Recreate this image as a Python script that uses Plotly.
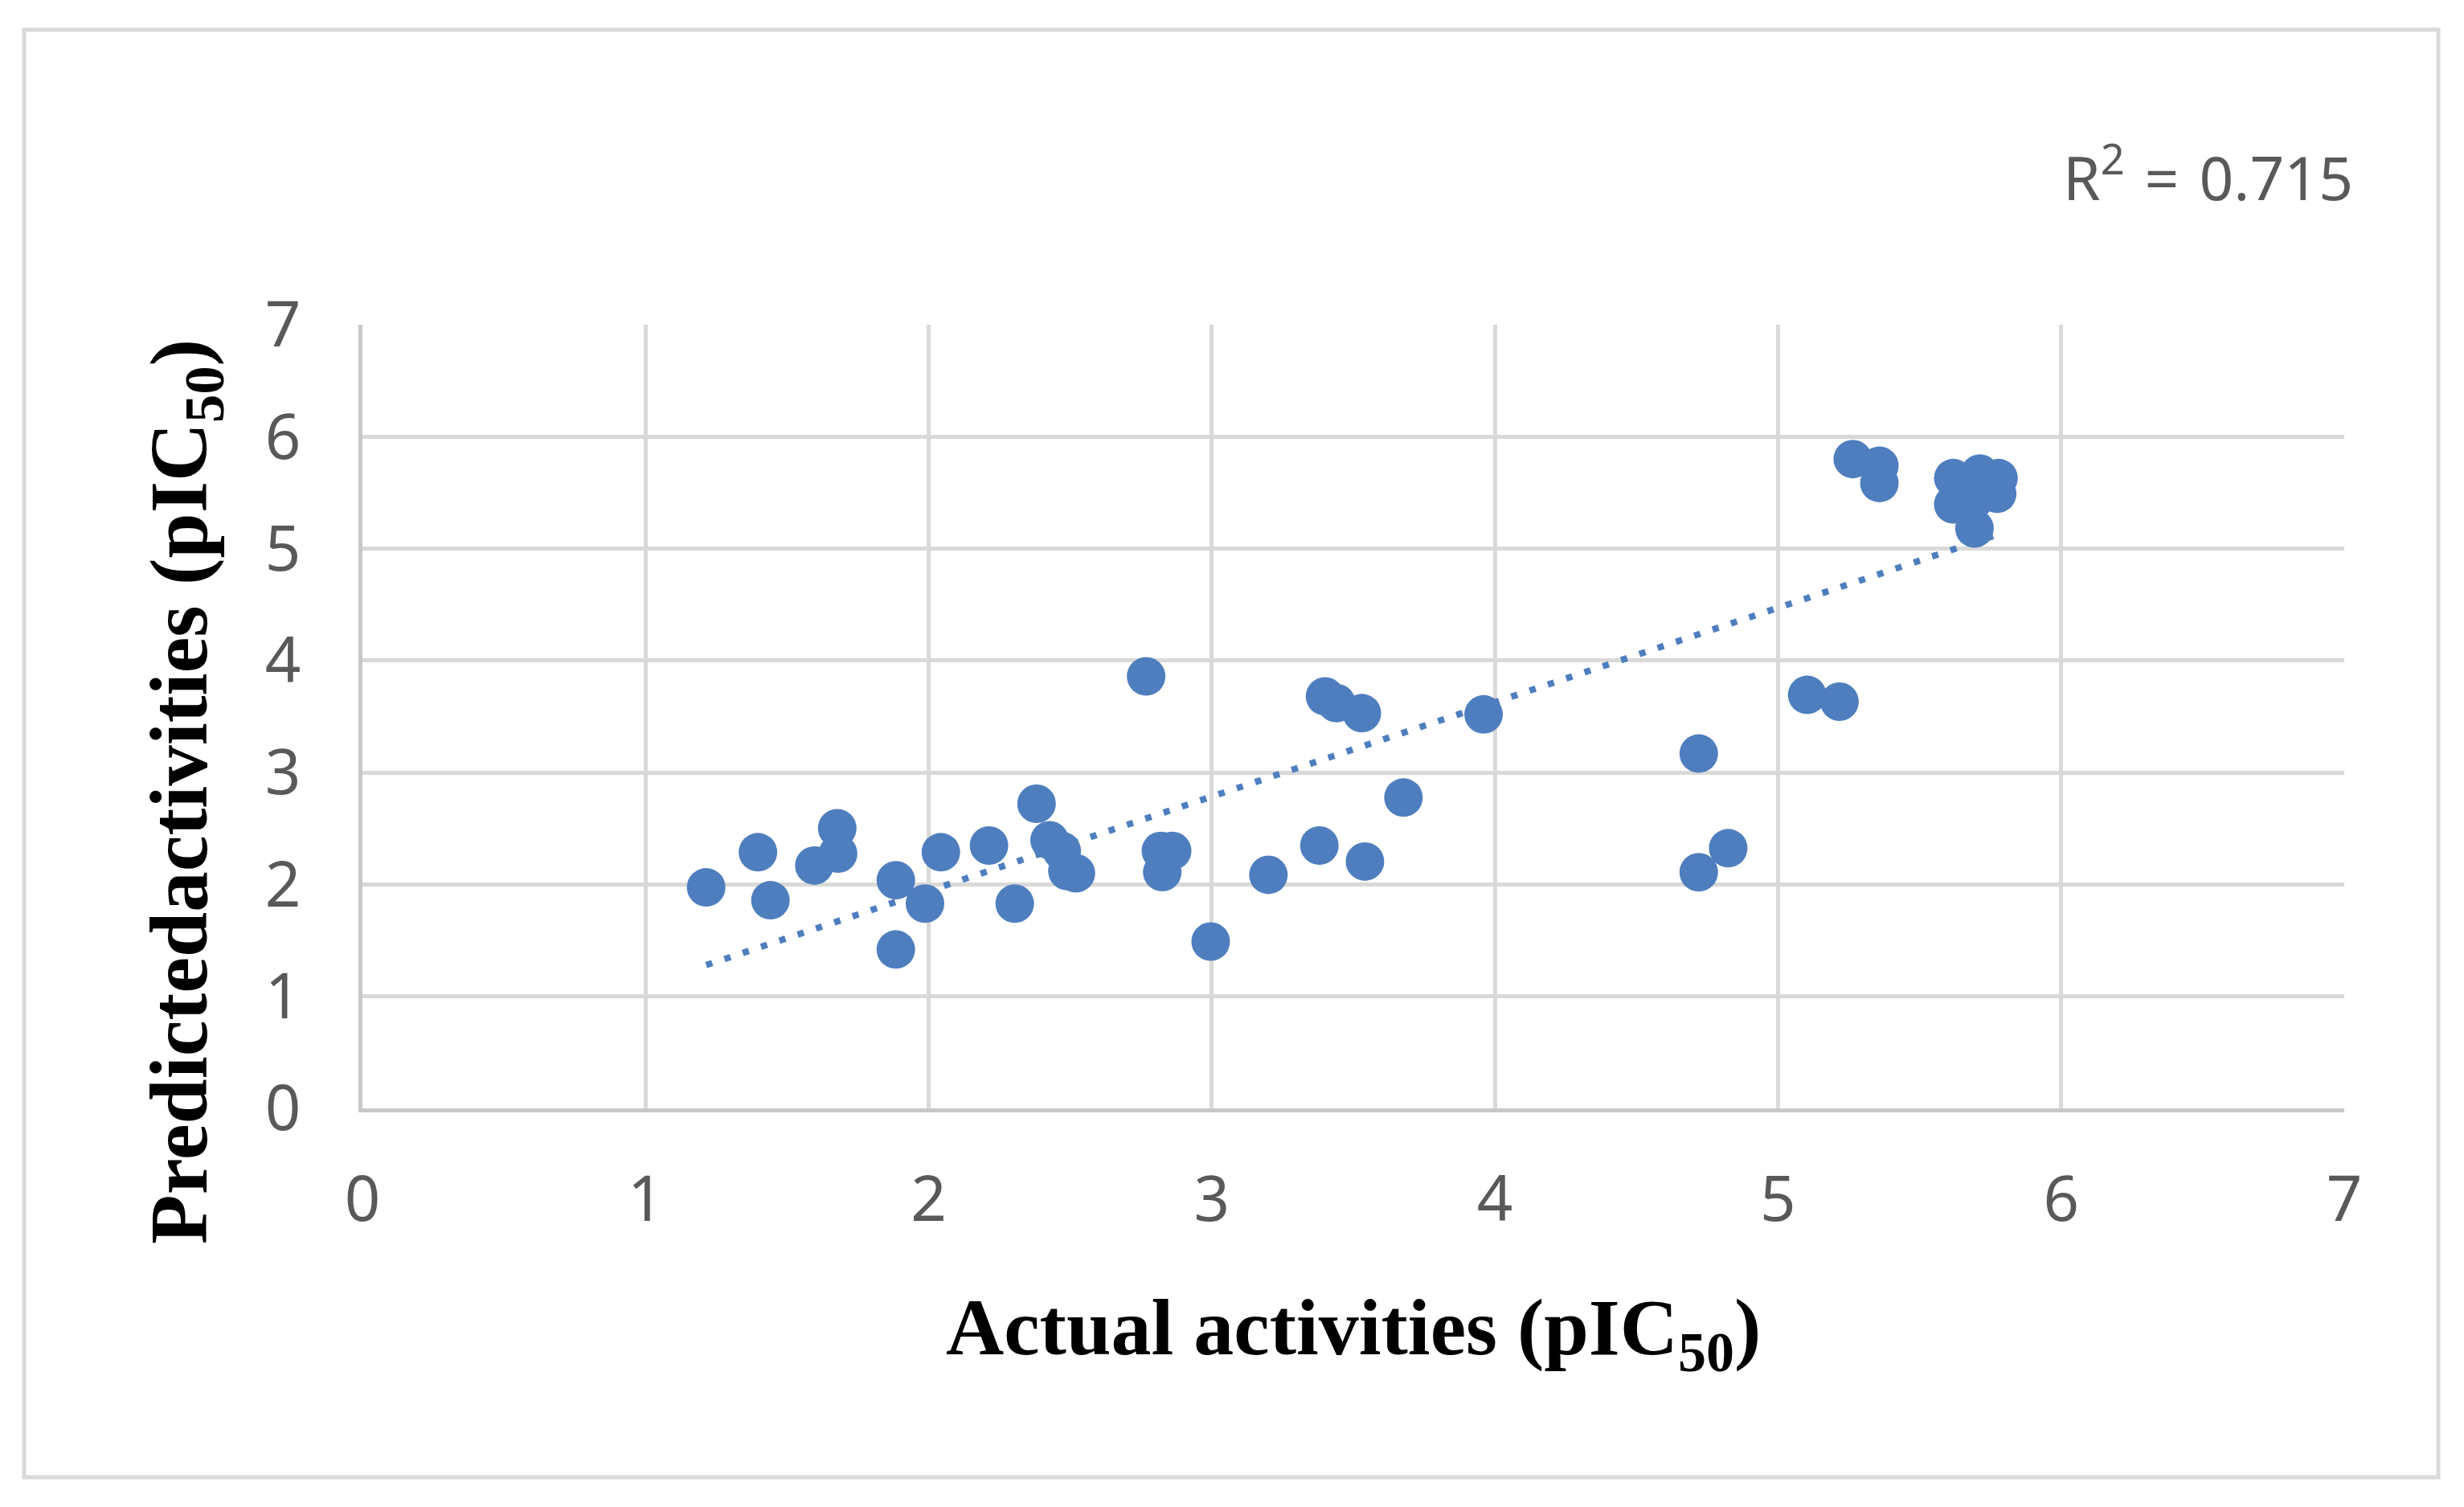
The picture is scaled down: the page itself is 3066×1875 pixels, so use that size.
import plotly.graph_objects as go

# ---- data ----
actual = [1.214, 1.397, 1.441, 1.596, 1.677, 1.680, 1.884, 1.884, 1.987, 2.043,
          2.213, 2.304, 2.381, 2.427, 2.470, 2.490, 2.520, 2.768, 2.820, 2.860,
          2.825, 2.996, 3.200, 3.380, 3.400, 3.440, 3.530, 3.541, 3.677, 3.960,
          4.720, 4.720, 4.824, 5.103, 5.217, 5.264, 5.358, 5.358, 5.619, 5.713,
          5.779, 5.774, 5.619, 5.694, 5.694]
predicted = [1.974, 2.288, 1.859, 2.169, 2.502, 2.276, 2.038, 1.419, 1.829, 2.288,
             2.348, 1.829, 2.721, 2.395, 2.300, 2.120, 2.100, 3.859, 2.300, 2.300,
             2.110, 1.490, 2.086, 2.348, 3.680, 3.620, 3.530, 2.205, 2.776, 3.519,
             3.169, 2.109, 2.324, 3.693, 3.633, 5.800, 5.740, 5.586, 5.630, 5.670,
             5.630, 5.490, 5.395, 5.440, 5.180]
x_ticks = [0, 1, 2, 3, 4, 5, 6, 7]
y_ticks = [0, 1, 2, 3, 4, 5, 6, 7]
trend_slope = 0.843      # linear trendline
trend_intercept = 0.256
r2_label = "R<sup>2</sup>\u2009\u2009=\u2009\u20090.715"
x_title = "Actual activities (pIC<sub>50</sub>)"
y_title = "Predictedactivities (pIC<sub>50</sub>)"

trend_x = [min(actual), max(actual)]
trend_y = [trend_slope * v + trend_intercept for v in trend_x]

W, H = 3066, 1875
L, R, T, B = 451, 2917, 404, 1379  # plot area in px

def px(xp):
    return (xp - L) / (R - L)

def py(yp):
    return (B - yp) / (B - T)

blue = "#4E7EBE"
grid = "#D9D9D9"
tickc = "#595959"

fig = go.Figure()
fig.add_trace(go.Scatter(x=trend_x, y=trend_y, mode="lines",
                         line=dict(color=blue, width=8, dash="8px,16px"),
                         hoverinfo="skip", showlegend=False))
fig.add_trace(go.Scatter(x=actual, y=predicted, mode="markers",
                         marker=dict(color=blue, size=48, line=dict(width=0)),
                         showlegend=False))

axis_common = dict(range=[0, 7], showgrid=True, gridcolor=grid, gridwidth=5,
                   zeroline=False, showline=True, linecolor="#C8C8C8", linewidth=5,
                   tickfont=dict(family="Noto Sans", size=78, color=tickc),
                   ticks="", fixedrange=True)
fig.update_xaxes(**axis_common, tickvals=x_ticks, ticklabelstandoff=41)
fig.update_yaxes(**axis_common, tickvals=y_ticks, ticklabelstandoff=56)

fig.update_layout(
    width=W, height=H,
    margin=dict(l=L, r=W - R, t=T, b=H - B, pad=0),
    paper_bgcolor="white", plot_bgcolor="white",
    showlegend=False,
    shapes=[dict(type="rect", xref="paper", yref="paper",
                 x0=px(30), x1=px(3034), y0=py(1838), y1=py(37),
                 line=dict(color=grid, width=5), layer="below")],
    annotations=[
        dict(text=r2_label, xref="paper", yref="paper", x=px(2930), y=py(216),
             xanchor="right", yanchor="middle", showarrow=False,
             font=dict(family="Noto Sans", size=75, color=tickc)),
        dict(text=x_title, xref="paper", yref="paper", x=px(1684), y=py(1658),
             xanchor="center", yanchor="middle", showarrow=False,
             font=dict(family="Liberation Serif", size=100, color="black", weight="bold")),
        dict(text=y_title, xref="paper", yref="paper", x=px(230), y=py(985),
             xanchor="center", yanchor="middle", showarrow=False, textangle=-90,
             font=dict(family="Liberation Serif", size=101, color="black", weight="bold")),
    ],
)

fig.write_html("out.html")
